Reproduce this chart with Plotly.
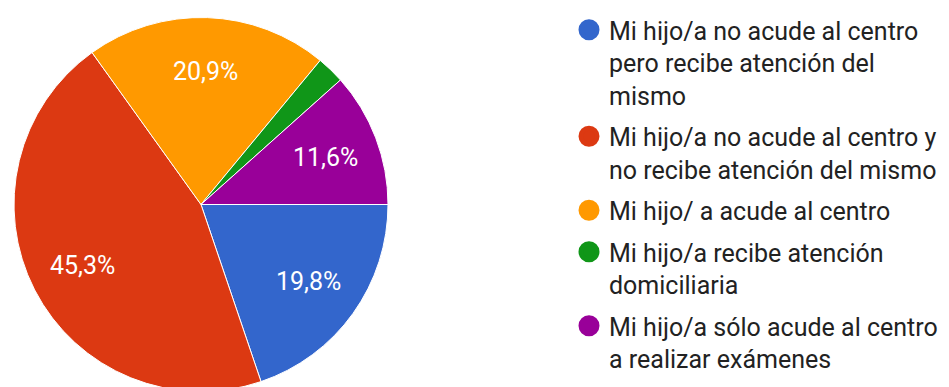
import math
import plotly.graph_objects as go

# Survey answers and their shares (%)
labels = [
    "Mi hijo/a no acude al centro<br>pero recibe atención del<br>mismo",
    "Mi hijo/a no acude al centro y<br>no recibe atención del mismo",
    "Mi hijo/ a acude al centro",
    "Mi hijo/a recibe atención<br>domiciliaria",
    "Mi hijo/a sólo acude al centro<br>a realizar exámenes",
]
values = [19.8, 45.3, 20.9, 2.4, 11.6]
colors = ["#3366CC", "#DC3912", "#FF9900", "#109618", "#990099"]
show_label = [True, True, True, False, True]

W, H = 949, 392
cx, cy, r = 201, 204.5, 187  # pie centre and radius in px
start_deg = 90                 # first slice starts at 3 o'clock, runs clockwise
label_frac = 0.71              # radial position of the percentage labels

fig = go.Figure()
fig.add_trace(go.Pie(
    labels=labels,
    values=values,
    sort=False,
    direction="clockwise",
    rotation=start_deg,
    marker=dict(colors=colors, line=dict(color="#FFFFFF", width=1)),
    textinfo="none",
    showlegend=False,
    hoverinfo="label+percent",
    domain=dict(x=[(cx - r) / W, (cx + r) / W],
                y=[(H - cy - r) / H, (H - cy + r) / H]),
))

# Percentage labels placed at the middle angle of each slice
total = sum(values)
acc = 0.0
for v, s in zip(values, show_label):
    mid = start_deg + 360.0 * (acc + v / 2) / total
    acc += v
    if not s:
        continue
    a = math.radians(mid)
    px = cx + label_frac * r * math.sin(a)
    py = cy - label_frac * r * math.cos(a)
    pct = f"{100 * v / total:.1f}".replace(".", ",") + "%"
    fig.add_annotation(
        x=px / W, y=1 - py / H, xref="paper", yref="paper",
        text=pct, showarrow=False, xanchor="center", yanchor="middle",
        font=dict(family="Roboto", size=25, color="#FFFFFF"),
    )

# Legend entries with round markers (outline of the same colour enlarges the dot)
for i, (lab, col) in enumerate(zip(labels, colors)):
    fig.add_trace(go.Scatter(
        x=[None], y=[None], mode="markers", name=lab,
        legendgroup=f"g{i}",
        marker=dict(symbol="circle", size=16, color=col,
                    line=dict(color=col, width=5)),
    ))

fig.update_layout(
    width=W, height=H,
    margin=dict(l=0, r=0, t=0, b=0),
    paper_bgcolor="#FFFFFF",
    plot_bgcolor="#FFFFFF",
    xaxis=dict(visible=False),
    yaxis=dict(visible=False),
    legend=dict(
        x=569 / W, xanchor="left",
        y=1 - 7 / H, yanchor="top",
        font=dict(family="Roboto", size=25, color="#222222"),
        bgcolor="rgba(0,0,0,0)",
        valign="top",
        tracegroupgap=6,
        itemclick=False,
    ),
)

fig.write_html(
    "out.html",
    post_script="document.documentElement.style.overflow='hidden';document.body.style.overflow='hidden';",
)
